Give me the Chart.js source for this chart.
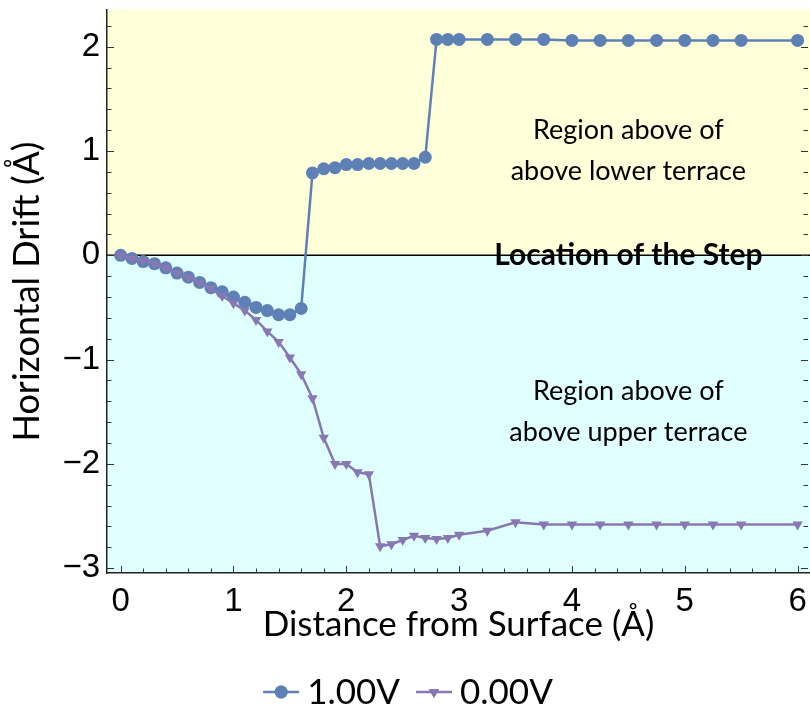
<!DOCTYPE html>
<html>
<head>
<meta charset="utf-8">
<script src="https://cdn.jsdelivr.net/npm/chart.js@4.4.1/dist/chart.umd.min.js"></script>
<style>
  html, body { margin: 0; padding: 0; background: #ffffff; }
  #wrap { width: 810px; height: 721px; }
</style>
</head>
<body>
<div id="wrap"><canvas id="drift" width="810" height="721"></canvas></div>
<script>
// Tip distance from the surface (Å), shared by both bias sweeps
const distance = [
  0.0, 0.1, 0.2, 0.3, 0.4, 0.5, 0.6, 0.7, 0.8, 0.9,
  1.0, 1.1, 1.2, 1.3, 1.4, 1.5, 1.6, 1.7, 1.8, 1.9,
  2.0, 2.1, 2.2, 2.3, 2.4, 2.5, 2.6, 2.7, 2.8, 2.9,
  3.0, 3.25, 3.5, 3.75, 4.0, 4.25, 4.5, 4.75, 5.0, 5.25, 5.5, 6.0
];

// Horizontal drift (Å) at 1.00 V bias
const drift1V = [
  0.00, -0.03, -0.06, -0.08, -0.12, -0.17, -0.21, -0.26, -0.31, -0.35,
  -0.40, -0.45, -0.50, -0.53, -0.57, -0.57, -0.51, 0.79, 0.83, 0.84,
  0.87, 0.87, 0.88, 0.88, 0.88, 0.88, 0.88, 0.94, 2.07, 2.07,
  2.07, 2.07, 2.07, 2.07, 2.06, 2.06, 2.06, 2.06, 2.06, 2.06, 2.06, 2.06
];

// Horizontal drift (Å) at 0.00 V bias
const drift0V = [
  0.00, -0.03, -0.05, -0.08, -0.12, -0.17, -0.21, -0.26, -0.32, -0.39,
  -0.46, -0.53, -0.62, -0.73, -0.83, -0.98, -1.14, -1.37, -1.75, -2.00,
  -2.00, -2.08, -2.10, -2.79, -2.77, -2.73, -2.69, -2.71, -2.72, -2.71,
  -2.68, -2.64, -2.56, -2.58, -2.58, -2.58, -2.58, -2.58, -2.58, -2.58, -2.58, -2.58
];

const seriesNames = ['1.00V', '0.00V'];
const xTickValues = [0, 1, 2, 3, 4, 5, 6];
const xTickLabels = ['0', '1', '2', '3', '4', '5', '6'];
const yTickValues = [-3, -2, -1, 0, 1, 2];
const yTickLabels = ['\u22123', '\u22122', '\u22121', '0', '1', '2'];

const BLUE = '#5e81b5';
const PURPLE = '#8778b3';
const TEXT_FONT = 'Lato, "Open Sans", sans-serif';
const NUM_FONT = '"Liberation Sans", Arial, sans-serif';

// Region notes, placed in data coordinates
const notes = [
  { x: 4.5, y: 1.0, lines: ['Region above of', 'above lower terrace'], bold: false },
  { x: 4.5, y: 0.0, lines: ['Location of the Step'], bold: true },
  { x: 4.5, y: -1.5, lines: ['Region above of', 'above upper terrace'], bold: false }
];

const toPoints = (xs, ys) => xs.map((x, i) => ({ x: x, y: ys[i] }));

// Drop the automatic label-overhang padding so the plot fills the frame
const noScalePadding = s => { s.paddingLeft = 0; s.paddingRight = 0; s.paddingTop = 0; s.paddingBottom = 0; };

// Two-tone backdrop split at zero drift, the zero line, frame ticks and notes
const regions = {
  id: 'regions',
  beforeDraw(chart) {
    const { ctx, chartArea: a, scales: { y } } = chart;
    const y0 = y.getPixelForValue(0);
    ctx.save();
    ctx.fillStyle = '#ffffd9';
    ctx.fillRect(a.left, a.top, a.right - a.left, y0 - a.top);
    ctx.fillStyle = '#e0ffff';
    ctx.fillRect(a.left, y0, a.right - a.left, a.bottom - y0);
    ctx.restore();
  },
  beforeDatasetsDraw(chart) {
    const { ctx, chartArea: a, scales: { x, y } } = chart;
    ctx.save();
    const y0 = y.getPixelForValue(0);
    ctx.strokeStyle = '#000000';
    ctx.lineWidth = 1.4;
    ctx.beginPath();
    ctx.moveTo(a.left, y0);
    ctx.lineTo(a.right, y0);
    ctx.stroke();

    // inward frame ticks: majors every 1, minors every 0.2
    ctx.strokeStyle = '#333333';
    ctx.lineWidth = 1;
    const seg = (x1, y1, x2, y2) => { ctx.beginPath(); ctx.moveTo(x1, y1); ctx.lineTo(x2, y2); ctx.stroke(); };
    for (let k = -15; k <= 11; k++) {
      const p = Math.round(y.getPixelForValue(k / 5)) + 0.5;
      if (p < a.top || p > a.bottom) continue;
      const len = k % 5 === 0 ? 7 : 4.5;
      seg(a.left, p, a.left + len, p);
      seg(a.right - 2, p, a.right - 2 - len, p);
    }
    for (let k = 0; k <= 30; k++) {
      const p = Math.round(x.getPixelForValue(k / 5)) + 0.5;
      const len = k % 5 === 0 ? 7 : 4.5;
      seg(p, a.bottom, p, a.bottom - len);
    }
    ctx.restore();
  },
  afterDatasetsDraw(chart) {
    const { ctx, scales: { x, y } } = chart;
    ctx.save();
    ctx.fillStyle = '#000000';
    ctx.textAlign = 'center';
    ctx.textBaseline = 'middle';
    const lineGap = 41;
    notes.forEach(n => {
      ctx.font = n.bold ? '700 30px ' + TEXT_FONT : '400 27px ' + TEXT_FONT;
      const cx = x.getPixelForValue(n.x);
      const cy = y.getPixelForValue(n.y);
      const top = cy - (n.lines.length - 1) * lineGap / 2;
      n.lines.forEach((t, i) => ctx.fillText(t, cx, top + i * lineGap));
    });
    ctx.restore();
  }
};

// Legend row under the axis title: line + marker + label per series
const legendRow = {
  id: 'legendRow',
  afterDraw(chart) {
    const { ctx } = chart;
    const cy = 692;
    const lineLen = 36, gapText = 8, gapItem = 16;
    ctx.save();
    ctx.font = '400 35px ' + TEXT_FONT;
    const items = chart.data.datasets.map((d, i) => ({
      label: seriesNames[i], color: d.borderColor, style: d.pointStyle, rot: d.pointRotation || 0,
      w: ctx.measureText(seriesNames[i]).width
    }));
    const total = items.reduce((s, it) => s + lineLen + gapText + it.w, 0) + gapItem * (items.length - 1);
    let cx = 408 - total / 2;
    items.forEach(it => {
      ctx.strokeStyle = it.color;
      ctx.lineWidth = 2.5;
      ctx.beginPath();
      ctx.moveTo(cx, cy);
      ctx.lineTo(cx + lineLen, cy);
      ctx.stroke();
      ctx.fillStyle = it.color;
      Chart.helpers.drawPoint(ctx, { pointStyle: it.style, rotation: it.rot, radius: it.style === 'circle' ? 6.5 : 6, borderWidth: 0 }, cx + lineLen / 2, cy);
      ctx.fill();
      ctx.fillStyle = '#000000';
      ctx.textAlign = 'left';
      ctx.textBaseline = 'middle';
      ctx.fillText(it.label, cx + lineLen + gapText, cy + 1);
      cx += lineLen + gapText + it.w + gapItem;
    });
    ctx.restore();
  }
};

new Chart(document.getElementById('drift'), {
  type: 'line',
  data: {
    datasets: [
      {
        label: seriesNames[0],
        data: toPoints(distance, drift1V),
        borderColor: BLUE,
        backgroundColor: BLUE,
        borderWidth: 2.5,
        pointStyle: 'circle',
        pointRadius: 6.5,
        pointBorderWidth: 0,
        pointBackgroundColor: BLUE,
        tension: 0,
        order: 2
      },
      {
        label: seriesNames[1],
        data: toPoints(distance, drift0V),
        borderColor: PURPLE,
        backgroundColor: PURPLE,
        borderWidth: 2.5,
        pointStyle: 'triangle',
        pointRotation: 180,
        pointRadius: 6,
        pointBorderWidth: 0,
        pointBackgroundColor: PURPLE,
        tension: 0,
        order: 1
      }
    ]
  },
  options: {
    responsive: false,
    animation: false,
    devicePixelRatio: 1,
    layout: { autoPadding: false, padding: { left: 0, right: 0, top: 10, bottom: 72 } },
    plugins: { legend: { display: false }, tooltip: { enabled: false } },
    scales: {
      x: {
        type: 'linear',
        min: -0.121,
        max: 6.11,
        afterBuildTicks: s => { s.ticks = xTickValues.map(v => ({ value: v })); },
        afterFit: s => { s.height = 76; noScalePadding(s); },
        grid: { display: false, drawTicks: false },
        border: { display: true, color: '#222222', width: 1.5 },
        ticks: {
          autoSkip: false, maxRotation: 0, padding: 9, color: '#000000',
          font: { family: NUM_FONT, size: 33 },
          callback: (v, i) => xTickLabels[i]
        },
        title: {
          display: true, text: 'Distance from Surface (\u00c5)', color: '#000000',
          font: { family: TEXT_FONT, size: 35 }, padding: { top: 0, bottom: 3 }
        }
      },
      y: {
        type: 'linear',
        min: -3.046,
        max: 2.352,
        afterBuildTicks: s => { s.ticks = yTickValues.map(v => ({ value: v })); },
        afterFit: s => { s.width = 107; noScalePadding(s); },
        grid: { display: false, drawTicks: false },
        border: { display: true, color: '#222222', width: 1.5 },
        ticks: {
          autoSkip: false, padding: 7, color: '#000000',
          font: { family: NUM_FONT, size: 33 },
          callback: (v, i) => yTickLabels[i]
        },
        title: {
          display: true, text: 'Horizontal Drift (\u00c5)', color: '#000000',
          font: { family: TEXT_FONT, size: 36 }, padding: { top: 6, bottom: 0 }
        }
      }
    }
  },
  plugins: [regions, legendRow]
});
</script>
</body>
</html>
